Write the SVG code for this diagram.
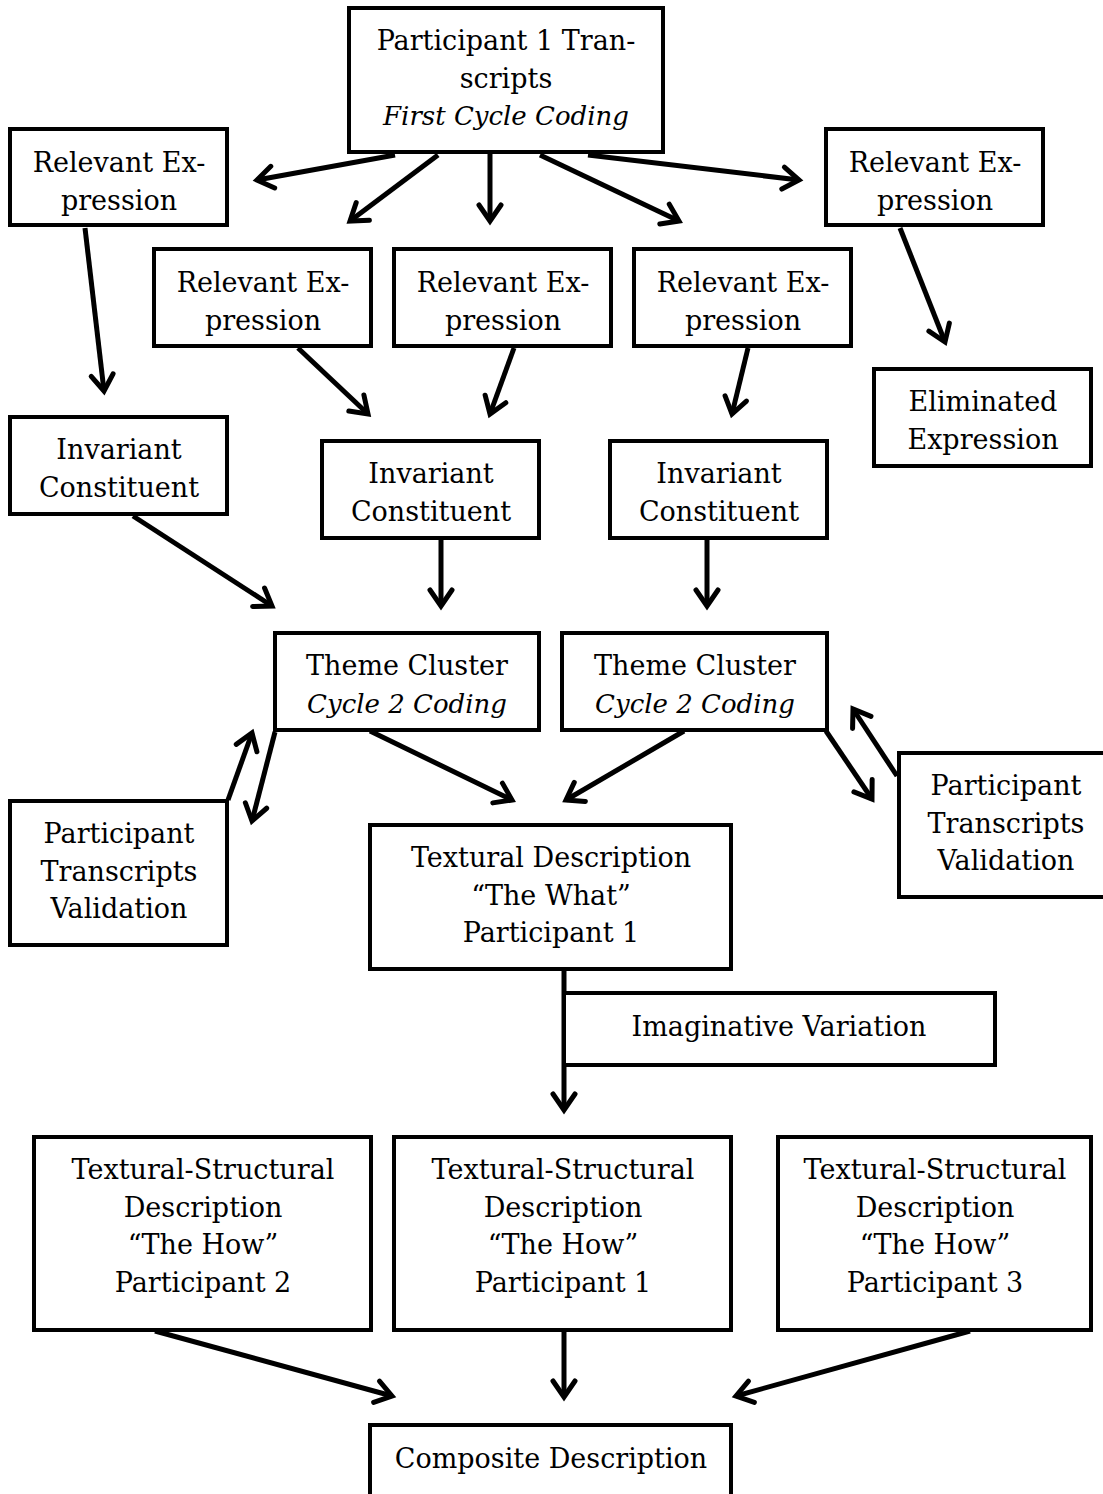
<svg xmlns="http://www.w3.org/2000/svg" width="1103" height="1494" viewBox="0 0 1103 1494">
<style>
.b{fill:#fff;stroke:#000;stroke-width:4}
.t{font-family:"DejaVu Serif","Liberation Serif",serif;font-size:27px;fill:#000;text-anchor:middle}
.i{font-style:italic;font-size:26px}
.c{stroke:#000;stroke-width:5;fill:none;marker-end:url(#ah)}
</style>
<defs>
<marker id="ah" markerUnits="userSpaceOnUse" markerWidth="30" markerHeight="30" viewBox="0 0 30 30" refX="22" refY="15" orient="auto">
<path d="M6,4 L22,15 L6,26" fill="none" stroke="#000" stroke-width="5" stroke-linecap="round"/>
</marker>
</defs>
<g id="connectors">
<line class="c" x1="395" y1="155" x2="257" y2="180"/>
<line class="c" x1="438" y1="155" x2="350" y2="221"/>
<line class="c" x1="490" y1="154" x2="490" y2="221"/>
<line class="c" x1="540" y1="155" x2="679" y2="221"/>
<line class="c" x1="588" y1="155" x2="799" y2="180"/>
<line class="c" x1="85" y1="228" x2="104" y2="391"/>
<line class="c" x1="900" y1="228" x2="945" y2="342"/>
<line class="c" x1="298" y1="348" x2="368" y2="414"/>
<line class="c" x1="514" y1="348" x2="490" y2="414"/>
<line class="c" x1="748" y1="348" x2="732" y2="414"/>
<line class="c" x1="133" y1="516" x2="272" y2="606"/>
<line class="c" x1="441" y1="540" x2="441" y2="606"/>
<line class="c" x1="707" y1="540" x2="707" y2="606"/>
<line class="c" x1="370" y1="731" x2="512" y2="800"/>
<line class="c" x1="684" y1="731" x2="566" y2="800"/>
<line class="c" x1="228" y1="800" x2="252" y2="733"/>
<line class="c" x1="275" y1="732" x2="252" y2="821"/>
<line class="c" x1="826" y1="731" x2="872" y2="799"/>
<line class="c" x1="897" y1="776" x2="853" y2="709"/>
<line class="c" x1="564" y1="971" x2="564" y2="1110"/>
<line class="c" x1="155" y1="1331" x2="392" y2="1396"/>
<line class="c" x1="564" y1="1331" x2="564" y2="1397"/>
<line class="c" x1="970" y1="1331" x2="736" y2="1396"/>
</g>
<g id="n1"><rect class="b" x="349" y="8" width="314" height="144"/><text class="t" x="506" y="50">Participant 1 Tran-</text><text class="t" x="506" y="88">scripts</text><text class="t i" x="506" y="125">First Cycle Coding</text></g>
<g id="n2"><rect class="b" x="10" y="129" width="217" height="96"/><text class="t" x="119" y="172">Relevant Ex-</text><text class="t" x="119" y="210">pression</text></g>
<g id="n3"><rect class="b" x="826" y="129" width="217" height="96"/><text class="t" x="935" y="172">Relevant Ex-</text><text class="t" x="935" y="210">pression</text></g>
<g id="n4"><rect class="b" x="154" y="249" width="217" height="97"/><text class="t" x="263" y="292">Relevant Ex-</text><text class="t" x="263" y="330">pression</text></g>
<g id="n5"><rect class="b" x="394" y="249" width="217" height="97"/><text class="t" x="503" y="292">Relevant Ex-</text><text class="t" x="503" y="330">pression</text></g>
<g id="n6"><rect class="b" x="634" y="249" width="217" height="97"/><text class="t" x="743" y="292">Relevant Ex-</text><text class="t" x="743" y="330">pression</text></g>
<g id="n7"><rect class="b" x="874" y="369" width="217" height="97"/><text class="t" x="983" y="411">Eliminated</text><text class="t" x="983" y="449">Expression</text></g>
<g id="n8"><rect class="b" x="10" y="417" width="217" height="97"/><text class="t" x="119" y="459">Invariant</text><text class="t" x="119" y="497">Constituent</text></g>
<g id="n9"><rect class="b" x="322" y="441" width="217" height="97"/><text class="t" x="431" y="483">Invariant</text><text class="t" x="431" y="521">Constituent</text></g>
<g id="n10"><rect class="b" x="610" y="441" width="217" height="97"/><text class="t" x="719" y="483">Invariant</text><text class="t" x="719" y="521">Constituent</text></g>
<g id="n11"><rect class="b" x="275" y="633" width="264" height="97"/><text class="t" x="407" y="675">Theme Cluster</text><text class="t i" x="407" y="713">Cycle 2 Coding</text></g>
<g id="n12"><rect class="b" x="562" y="633" width="265" height="97"/><text class="t" x="695" y="675">Theme Cluster</text><text class="t i" x="695" y="713">Cycle 2 Coding</text></g>
<g id="n13"><rect class="b" x="10" y="801" width="217" height="144"/><text class="t" x="119" y="843">Participant</text><text class="t" x="119" y="881">Transcripts</text><text class="t" x="119" y="918">Validation</text></g>
<g id="n14"><rect class="b" x="899" y="753" width="210" height="144"/><text class="t" x="1006" y="795">Participant</text><text class="t" x="1006" y="833">Transcripts</text><text class="t" x="1006" y="870">Validation</text></g>
<g id="n15"><rect class="b" x="370" y="825" width="361" height="144"/><text class="t" x="551" y="867">Textural Description</text><text class="t" x="551" y="905">“The What”</text><text class="t" x="551" y="942">Participant 1</text></g>
<g id="n16"><rect class="b" x="564" y="993" width="431" height="72"/><text class="t" x="779" y="1036">Imaginative Variation</text></g>
<g id="n17"><rect class="b" x="34" y="1137" width="337" height="193"/><text class="t" x="203" y="1179">Textural-Structural</text><text class="t" x="203" y="1217">Description</text><text class="t" x="203" y="1254">“The How”</text><text class="t" x="203" y="1292">Participant 2</text></g>
<g id="n18"><rect class="b" x="394" y="1137" width="337" height="193"/><text class="t" x="563" y="1179">Textural-Structural</text><text class="t" x="563" y="1217">Description</text><text class="t" x="563" y="1254">“The How”</text><text class="t" x="563" y="1292">Participant 1</text></g>
<g id="n19"><rect class="b" x="778" y="1137" width="313" height="193"/><text class="t" x="935" y="1179">Textural-Structural</text><text class="t" x="935" y="1217">Description</text><text class="t" x="935" y="1254">“The How”</text><text class="t" x="935" y="1292">Participant 3</text></g>
<g id="n20"><rect class="b" x="370" y="1425" width="361" height="72"/><text class="t" x="551" y="1468">Composite Description</text></g>
</svg>
